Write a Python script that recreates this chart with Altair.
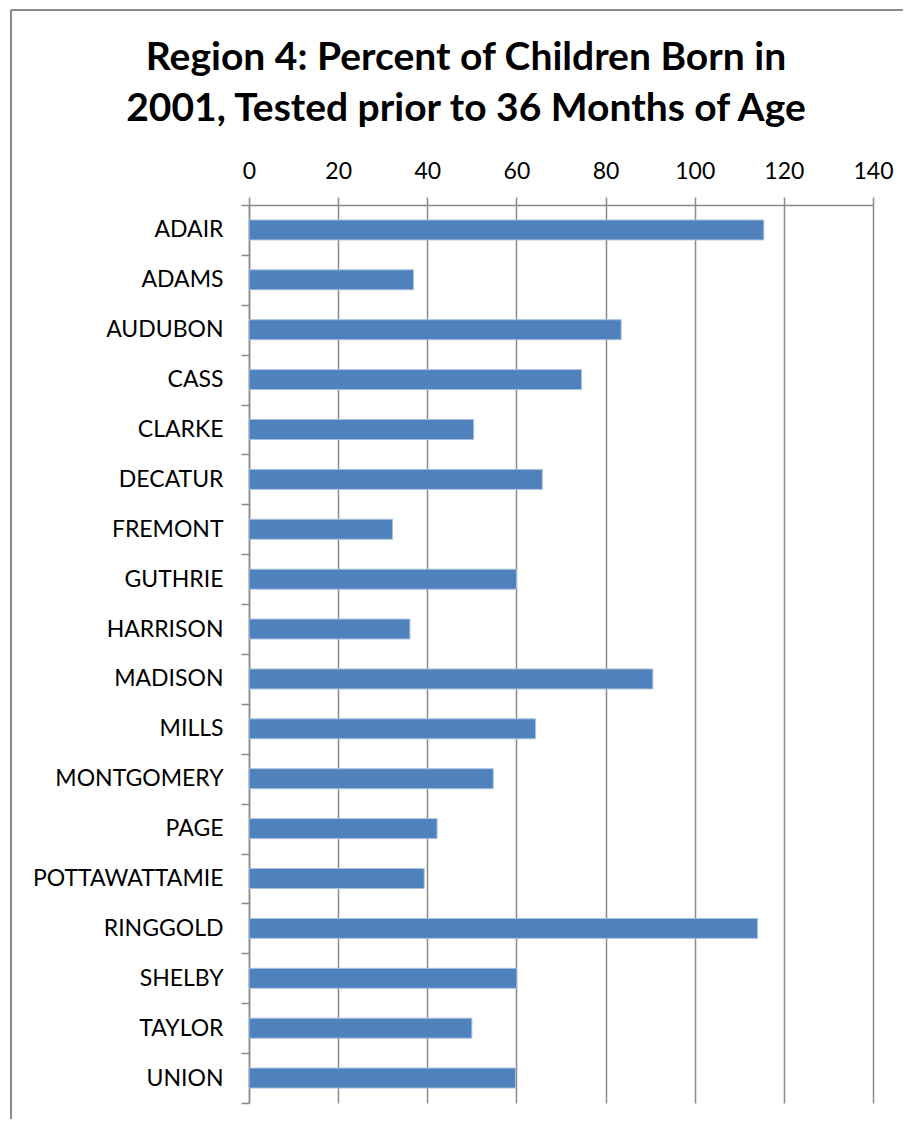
import altair as alt
import pandas as pd

counties = ["ADAIR", "ADAMS", "AUDUBON", "CASS", "CLARKE", "DECATUR", "FREMONT",
            "GUTHRIE", "HARRISON", "MADISON", "MILLS", "MONTGOMERY", "PAGE",
            "POTTAWATTAMIE", "RINGGOLD", "SHELBY", "TAYLOR", "UNION"]
percent = [115.5, 36.9, 83.5, 74.6, 50.4, 65.8, 32.2,
           60.0, 36.1, 90.6, 64.3, 54.8, 42.2,
           39.3, 114.1, 60.1, 50.0, 59.8]
x_ticks = [0, 20, 40, 60, 80, 100, 120, 140]

title_lines = ["Region 4: Percent of Children Born in",
               "2001, Tested prior to 36 Months of Age"]

df = pd.DataFrame({"county": counties, "percent": percent})

W, H = 624, 898
GRID = "#8a8a8a"
FONT = "Lato"

base = alt.Chart(df)

bars = base.mark_bar(
    height={"band": 0.4}, color="#4F81BD", stroke="#A9C1DF", strokeWidth=1
).encode(
    x=alt.X("percent:Q",
            scale=alt.Scale(domain=[0, 140], nice=False),
            axis=alt.Axis(orient="top", values=x_ticks, title=None,
                          grid=True, gridColor=GRID, gridWidth=1.5,
                          domain=True, domainColor=GRID, domainWidth=1.5,
                          ticks=True, tickColor=GRID, tickWidth=1.5, tickSize=8,
                          labelFlush=False, labelOverlap=False,
                          labelFont=FONT, labelFontSize=23, labelColor="#000",
                          labelPadding=14)),
    y=alt.Y("county:N", sort=counties,
            scale=alt.Scale(paddingInner=0, paddingOuter=0),
            axis=alt.Axis(title=None, tickBand="extent",
                          domain=True, domainColor=GRID, domainWidth=1.5,
                          ticks=True, tickColor=GRID, tickWidth=1.5, tickSize=8,
                          grid=False, labelLimit=400,
                          labelFont=FONT, labelFontSize=23, labelColor="#000",
                          labelPadding=18)),
)

# outer chart-area frame (Excel style)
frame_left = base.mark_rule(color=GRID, strokeWidth=1.5).encode(
    x=alt.value(-238), y=alt.value(-195), y2=alt.value(H + 40))
frame_top = base.mark_rule(color=GRID, strokeWidth=1.5).encode(
    x=alt.value(-238), x2=alt.value(W + 40), y=alt.value(-195))

title = alt.Chart(pd.DataFrame({"t": [0]})).mark_text(
    text=title_lines, font=FONT, fontSize=39, fontWeight="bold", color="#000",
    align="center", baseline="alphabetic", lineHeight=51
).encode(x=alt.value(217), y=alt.value(-135))

chart = alt.layer(frame_left, frame_top, bars, title).properties(
    width=W, height=H,
    autosize=alt.AutoSizeParams(type="none"),
    padding={"left": 241, "top": 197, "right": 30, "bottom": 16},
).configure_view(stroke=None)

chart.save("out.html", embed_options={"renderer": "svg", "actions": False})
